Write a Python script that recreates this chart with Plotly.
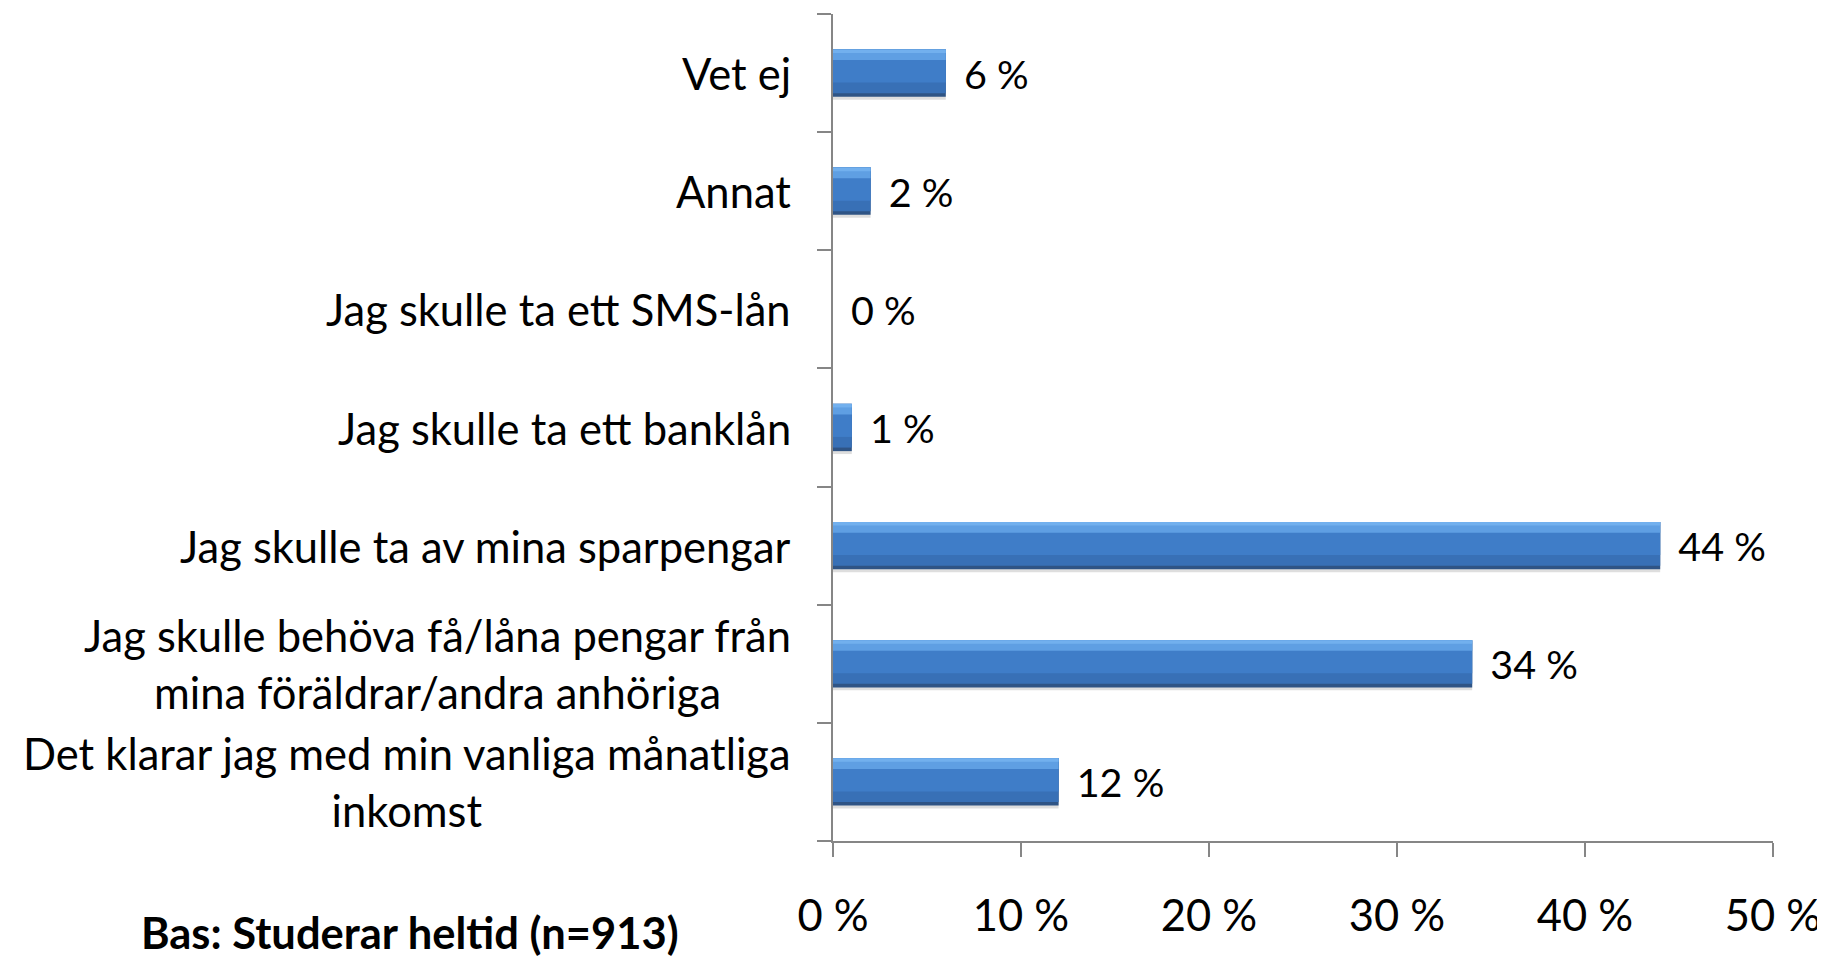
import plotly.graph_objects as go

# Data (bottom to top)
categories = [
    "Det klarar jag med min vanliga månatliga<br>inkomst",
    "Jag skulle behöva få/låna pengar från<br>mina föräldrar/andra anhöriga",
    "Jag skulle ta av mina sparpengar",
    "Jag skulle ta ett banklån",
    "Jag skulle ta ett SMS-lån",
    "Annat",
    "Vet ej",
]
values = [12, 34, 44, 1, 0, 2, 6]
x_ticks = [0, 10, 20, 30, 40, 50]
note = "Bas: Studerar heltid (n=913)"

FONT = "Lato, 'Open Sans', sans-serif"
FS = 43.5
AXIS_COL = "#868686"

fig = go.Figure()

# shadow
fig.add_trace(go.Bar(
    y=categories, x=values, orientation="h", width=0.40, offset=-0.225,
    marker=dict(color="rgba(0,0,0,0.13)", line=dict(width=0)),
    hoverinfo="skip", showlegend=False,
))
# bar layers (bevel/gradient look)
layers = [
    (-0.20, 0.40, "#2F5485"),
    (-0.17, 0.37, "#3870B6"),
    (-0.08, 0.28, "#3F7DC8"),
    (0.11, 0.09, "#5F9FE3"),
    (0.17, 0.03, "#72B0EE"),
]
for off, w, col in layers:
    fig.add_trace(go.Bar(
        y=categories, x=values, orientation="h", width=w, offset=off,
        marker=dict(color=col, line=dict(width=0)),
        hoverinfo="skip", showlegend=False,
    ))

# value labels
fig.add_trace(go.Bar(
    y=categories, x=values, orientation="h", width=0.40, offset=-0.20,
    marker=dict(color="rgba(0,0,0,0)", line=dict(width=0)),
    text=[f"\u00a0\u2009{v} %" for v in values], textposition="outside",
    textfont=dict(family=FONT, size=FS, color="black"),
    cliponaxis=False, hoverinfo="skip", showlegend=False,
))

# category labels (centered multi-line, right-aligned block)
for c in categories:
    fig.add_annotation(
        x=0, xref="paper", y=c, yref="y", text=c, showarrow=False,
        xanchor="right", yanchor="middle", align="center", xshift=-40,
        font=dict(family=FONT, size=FS, color="black"),
    )

fig.add_annotation(
    x=-0.4505, xref="paper", y=-0.110, yref="paper", text=f"<b>{note}</b>",
    showarrow=False, xanchor="center", yanchor="middle",
    font=dict(family=FONT, size=FS, color="black"),
)

# page body has an 8px default margin, so the figure is sized to fit the window
fig.update_layout(
    width=1817, height=948,
    margin=dict(l=825, r=52, t=6, b=115),
    paper_bgcolor="white", plot_bgcolor="white",
    barmode="overlay", bargap=0.6,
)
fig.update_xaxes(
    range=[0, 50], tickvals=x_ticks, ticktext=[f"{t} %" for t in x_ticks],
    showgrid=False, zeroline=False, showline=True, linecolor=AXIS_COL, linewidth=2,
    ticks="outside", ticklen=14, tickwidth=2, tickcolor=AXIS_COL,
    ticklabelstandoff=22, automargin=False,
    tickfont=dict(family=FONT, size=FS, color="black"),
)
fig.update_yaxes(
    type="category", categoryorder="array", categoryarray=categories,
    range=[-0.5, 6.5], showticklabels=False, tickson="boundaries",
    showgrid=False, zeroline=False, showline=True, linecolor=AXIS_COL, linewidth=2,
    ticks="outside", ticklen=14, tickwidth=2, tickcolor=AXIS_COL, automargin=False,
)

fig.write_html("out.html")
